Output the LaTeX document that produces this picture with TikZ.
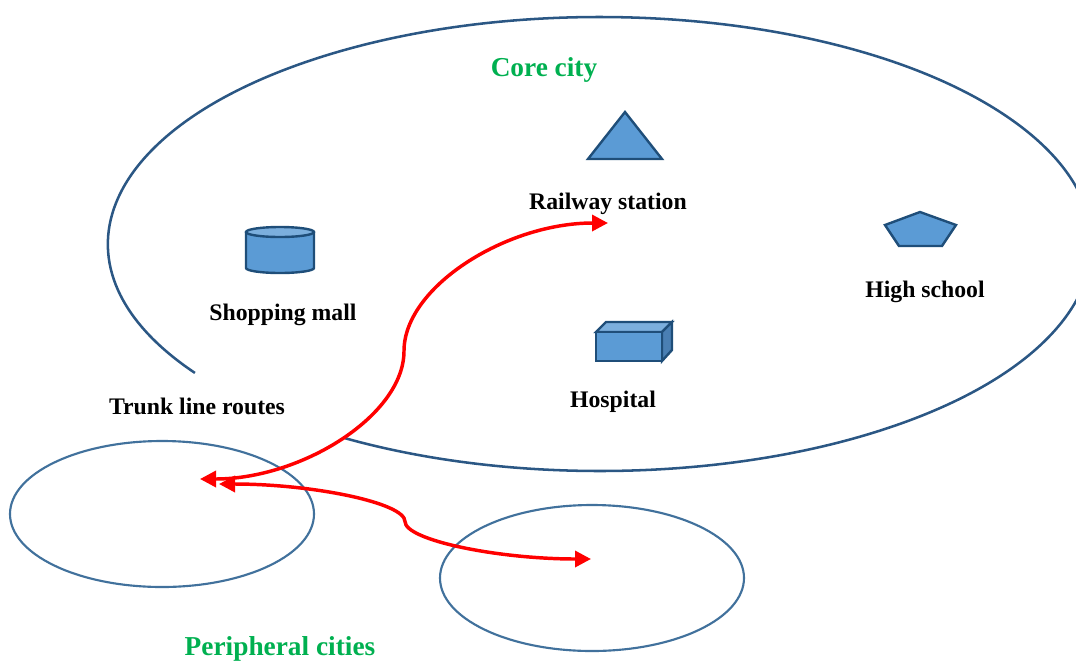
\documentclass[tikz,border=0pt]{standalone}
\usepackage{fontspec}
\setmainfont{Liberation Serif}
\usetikzlibrary{arrows.meta}
\definecolor{navy}{HTML}{2B5784}
\definecolor{ringblue}{HTML}{41719C}
\definecolor{shapefill}{HTML}{5B9BD5}
\definecolor{shapetop}{HTML}{7CAFDD}
\definecolor{shapeside}{HTML}{4A7FB3}
\definecolor{shapeline}{HTML}{1F4E79}
\definecolor{coregreen}{HTML}{00B050}
\begin{document}
\begin{tikzpicture}[x=0.75pt,y=-0.75pt,
  lbl/.style={font=\fontsize{17.8pt}{20pt}\selectfont\bfseries, inner sep=0, anchor=base},
  ttl/.style={font=\fontsize{20.5pt}{24pt}\selectfont\bfseries, text=coregreen, inner sep=0, anchor=base},
  icon/.style={fill=shapefill, draw=shapeline, line width=1.8pt, line join=miter},
  ring/.style={draw=ringblue, line width=1.6pt},
  bigring/.style={draw=navy, line width=1.9pt},
  route/.style={draw=red, line width=2.6pt, {Triangle[length=12pt,width=12pt]}-{Triangle[length=12pt,width=12pt]}}]
\useasboundingbox (0,0) rectangle (1076,662);
\clip (0,0) rectangle (1076,662);
% core city boundary (with a gap near the trunk-line label)
\draw[bigring] (194.9,372.9) arc[start angle=145.4, end angle=481.2, x radius=492, y radius=227];
% peripheral cities
\draw[ring] (162,514) ellipse[x radius=152, y radius=73];
\draw[ring] (592,578) ellipse[x radius=152, y radius=73];
% railway station: triangle
\draw[icon] (625,112) -- (662,159) -- (588,159) -- cycle;
% shopping mall: cylinder
\draw[icon] (246,232) -- (246,268) arc[start angle=180, end angle=0, x radius=34, y radius=5] -- (314,232);
\draw[icon, fill=shapetop] (280,232) ellipse[x radius=34, y radius=5];
% hospital: box
\draw[icon, fill=shapetop] (596,332) -- (606,322) -- (672,322) -- (662,332) -- cycle;
\draw[icon, fill=shapeside] (662,332) -- (672,322) -- (672,350) -- (662,361) -- cycle;
\draw[icon] (596,332) rectangle (662,361);
% high school: pentagon
\draw[icon] (920,212) -- (956,225) -- (942,246) -- (899,246) -- (885,225) -- cycle;
% labels
\node[ttl] (core) at (544,76) {Core city};
\node[ttl] (peri) at (280,655) {Peripheral cities};
\node[lbl] (rail) at (608,209) {Railway station};
\node[lbl] (mall) at (283,320) {Shopping mall};
\node[lbl] (school) at (925,297) {High school};
\node[lbl] (hosp) at (613,407) {Hospital};
\node[lbl] (trunk) at (197,414) {Trunk line routes};
% route end points
\coordinate (peripA) at (200,479);
\coordinate (midA) at (404,351);
\coordinate (railEnd) at (608,223);
\coordinate (peripB) at (219,484);
\coordinate (midB) at (405,521.5);
\coordinate (periC) at (591,559);
% trunk line routes
\draw[route] (peripA) .. controls (302,479) and (404,415) .. (midA)
                      .. controls (404,287) and (506,223) .. (railEnd);
\draw[route] (peripB) .. controls (312,484) and (405,502.75) .. (midB)
                      .. controls (405,540.25) and (498,559) .. (periC);
\end{tikzpicture}
\end{document}
